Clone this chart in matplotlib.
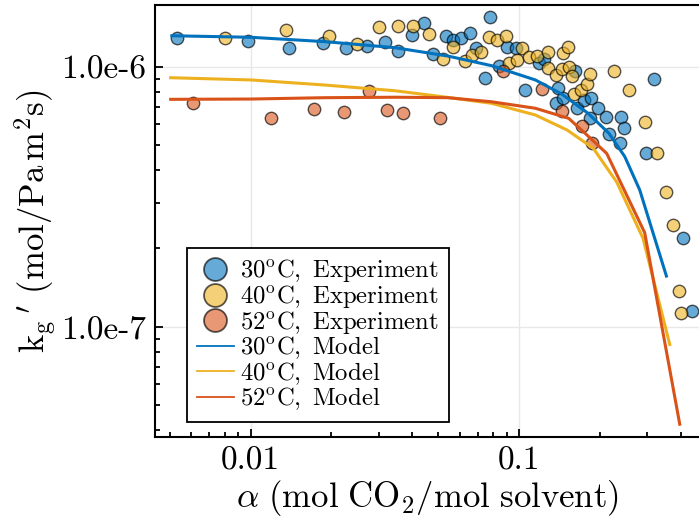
import numpy as np
import matplotlib.pyplot as plt
from matplotlib.lines import Line2D
from matplotlib.ticker import LogLocator, NullFormatter

plt.rcParams['font.family'] = 'serif'
plt.rcParams['font.serif'] = ['cmr10']
plt.rcParams['mathtext.fontset'] = 'cm'
plt.rcParams['axes.formatter.use_mathtext'] = True

# ---------------- experimental data (alpha, kg') ----------------
alpha_30 = [0.00532, 0.00977, 0.01393, 0.01865, 0.02266, 0.02715, 0.03154, 0.03535,
            0.03990, 0.04429, 0.04775, 0.05340, 0.05669, 0.06076, 0.06587, 0.06893,
            0.07433, 0.07770, 0.08380, 0.09030, 0.09739, 0.1050, 0.1184, 0.1239,
            0.1397, 0.1375, 0.1461, 0.1610, 0.1648, 0.1750, 0.1830, 0.1858,
            0.1973, 0.2096, 0.2159, 0.2363, 0.2400, 0.2449, 0.2960, 0.3165,
            0.4072, 0.4413]
kg_30 = [1.286e-6, 1.259e-6, 1.183e-6, 1.237e-6, 1.177e-6, 1.204e-6, 1.248e-6, 1.149e-6,
         1.324e-6, 1.476e-6, 1.116e-6, 1.313e-6, 1.267e-6, 1.286e-6, 1.351e-6, 1.183e-6,
         9.07e-7, 1.549e-6, 1.009e-6, 1.194e-6, 1.183e-6, 8.14e-7, 1.031e-6, 1.068e-6,
         8.30e-7, 7.27e-7, 7.56e-7, 9.63e-7, 6.92e-7, 7.44e-7, 6.33e-7, 7.56e-7,
         6.92e-7, 6.42e-7, 5.50e-7, 5.08e-7, 6.42e-7, 5.80e-7, 4.67e-7, 8.97e-7,
         2.20e-7, 1.149e-7]

alpha_40 = [0.00804, 0.01359, 0.01962, 0.02481, 0.03017, 0.03535, 0.04013, 0.04634,
            0.05182, 0.05669, 0.06260, 0.06648, 0.07206, 0.07724, 0.08254, 0.08897,
            0.09171, 0.09831, 0.1025, 0.1089, 0.1166, 0.1277, 0.1284, 0.1375,
            0.1439, 0.1452, 0.1515, 0.1528, 0.1575, 0.1600, 0.1699, 0.1794,
            0.1830, 0.2260, 0.2573, 0.2942, 0.3262, 0.3511, 0.3739, 0.3935, 0.4017]
kg_40 = [1.286e-6, 1.384e-6, 1.313e-6, 1.223e-6, 1.425e-6, 1.438e-6, 1.438e-6, 1.336e-6,
         1.068e-6, 1.194e-6, 1.052e-6, 1.109e-6, 1.136e-6, 1.297e-6, 1.267e-6, 1.315e-6,
         1.031e-6, 1.061e-6, 1.177e-6, 1.093e-6, 1.099e-6, 1.142e-6, 9.86e-7, 9.29e-7,
         9.77e-7, 1.126e-6, 1.187e-6, 1.0e-6, 9.21e-7, 7.85e-7, 8.14e-7, 8.56e-7,
         9.37e-7, 9.65e-7, 8.14e-7, 6.14e-7, 4.64e-7, 3.30e-7, 2.46e-7, 1.376e-7, 1.132e-7]

alpha_52 = [0.00613, 0.01188, 0.01719, 0.02233, 0.02754, 0.03230, 0.03690, 0.05072,
            0.08713, 0.1213, 0.1439, 0.1709, 0.1870]
kg_52 = [7.23e-7, 6.33e-7, 6.88e-7, 6.71e-7, 8.08e-7, 6.82e-7, 6.65e-7, 6.37e-7,
         9.63e-7, 8.19e-7, 6.76e-7, 5.91e-7, 5.08e-7]

# ---------------- model curves ----------------
m_alpha_30 = [0.00509, 0.01007, 0.01892, 0.03451, 0.0542, 0.0789, 0.1149, 0.1439,
              0.1804, 0.2159, 0.2472, 0.2809, 0.3532]
m_kg_30 = [1.315e-6, 1.297e-6, 1.248e-6, 1.183e-6, 1.099e-6, 1.009e-6, 8.89e-7, 7.85e-7,
           6.62e-7, 5.54e-7, 4.51e-7, 3.36e-7, 1.567e-7]

m_alpha_40 = [0.00504, 0.01007, 0.01892, 0.03451, 0.0542, 0.0789, 0.1149, 0.1507,
              0.1886, 0.2307, 0.2890, 0.3634]
m_kg_40 = [9.07e-7, 8.89e-7, 8.50e-7, 8.08e-7, 7.62e-7, 7.23e-7, 6.52e-7, 5.71e-7,
           4.86e-7, 3.60e-7, 2.19e-7, 8.55e-8]

m_alpha_52 = [0.00504, 0.01007, 0.01892, 0.03451, 0.0542, 0.0789, 0.1149, 0.1528,
              0.1761, 0.2117, 0.2932, 0.3960]
m_kg_52 = [7.49e-7, 7.51e-7, 7.60e-7, 7.63e-7, 7.60e-7, 7.33e-7, 6.92e-7, 6.33e-7,
           5.54e-7, 4.64e-7, 2.30e-7, 4.22e-8]

labels = [r'$30^{\mathrm{o}}\mathrm{C,\ Experiment}$',
          r'$40^{\mathrm{o}}\mathrm{C,\ Experiment}$',
          r'$52^{\mathrm{o}}\mathrm{C,\ Experiment}$',
          r'$30^{\mathrm{o}}\mathrm{C,\ Model}$',
          r'$40^{\mathrm{o}}\mathrm{C,\ Model}$',
          r'$52^{\mathrm{o}}\mathrm{C,\ Model}$']

c_blue = '#0072BD'
c_yell = '#EDB120'
c_red = '#D95319'
fill_a = 0.6
edge = (0, 0, 0, 0.65)

# ---------------- figure ----------------
fig = plt.figure(figsize=(6.99, 5.29), dpi=100)
ax = fig.add_axes([0.2222, 0.1745, 0.7778, 0.816])

ax.grid(True, which='major', color='#e8e8e8', lw=1.0, zorder=0)

for xs, ys, c in [(alpha_30, kg_30, c_blue), (alpha_40, kg_40, c_yell), (alpha_52, kg_52, c_red)]:
    ax.scatter(xs, ys, s=80, facecolor=c, edgecolor=edge, linewidth=1.0, zorder=2)
# fill transparency only (edges keep their own alpha)
for coll in ax.collections:
    fc = coll.get_facecolor()
    fc[:, 3] = fill_a
    coll.set_facecolor(fc)

ax.plot(m_alpha_30, m_kg_30, color=c_blue, lw=2.2, zorder=3)
ax.plot(m_alpha_40, m_kg_40, color=c_yell, lw=2.2, zorder=3)
ax.plot(m_alpha_52, m_kg_52, color=c_red, lw=2.2, zorder=3)

ax.set_xscale('log')
ax.set_yscale('log')
ax.set_xlim(0.00442, 0.467)
ax.set_ylim(3.78e-8, 1.726e-6)

ax.set_xticks([0.01, 0.1], labels=['0.01', '0.1'])
ax.set_yticks([1e-7, 1e-6], labels=['1.0e-7', '1.0e-6'])
ax.xaxis.set_minor_locator(LogLocator(base=10, subs=np.arange(2, 10)))
ax.yaxis.set_minor_locator(LogLocator(base=10, subs=np.arange(2, 10)))
ax.xaxis.set_minor_formatter(NullFormatter())
ax.yaxis.set_minor_formatter(NullFormatter())
ax.tick_params(which='both', direction='in', top=False, right=False, width=1.3, labelsize=24, pad=7)
ax.tick_params(which='major', length=6)
ax.tick_params(which='minor', length=3.5)

ax.spines['right'].set_visible(False)
for s in ['left', 'bottom', 'top']:
    ax.spines[s].set_linewidth(1.5)

ax.set_xlabel(r'$\alpha\ \mathrm{(mol\ CO_2/mol\ solvent)}$', fontsize=25, labelpad=2)
ax.set_ylabel(r"$\mathrm{k_g}\,'\ \mathrm{(mol/Pa\,m^2s)}$", fontsize=25, labelpad=2)

handles = [Line2D([], [], ls='none', marker='o', ms=16.5, mfc=(0, 0.447, 0.741, fill_a), mec=edge, mew=1.3),
           Line2D([], [], ls='none', marker='o', ms=16.5, mfc=(0.929, 0.694, 0.125, fill_a), mec=edge, mew=1.3),
           Line2D([], [], ls='none', marker='o', ms=16.5, mfc=(0.851, 0.325, 0.098, fill_a), mec=edge, mew=1.3),
           Line2D([], [], color=c_blue, lw=1.3),
           Line2D([], [], color=c_yell, lw=1.3),
           Line2D([], [], color=c_red, lw=1.3)]
leg = ax.legend(handles, labels, loc='lower left', bbox_to_anchor=(0.2671, 0.2023),
                bbox_transform=fig.transFigure, borderaxespad=0, fancybox=False,
                edgecolor='black', framealpha=1, fontsize=17.8, handlelength=1.5,
                handletextpad=0.25, labelspacing=-0.05, borderpad=0.4)
leg.get_frame().set_linewidth(1.3)

fig.savefig('out.png', dpi=100)
